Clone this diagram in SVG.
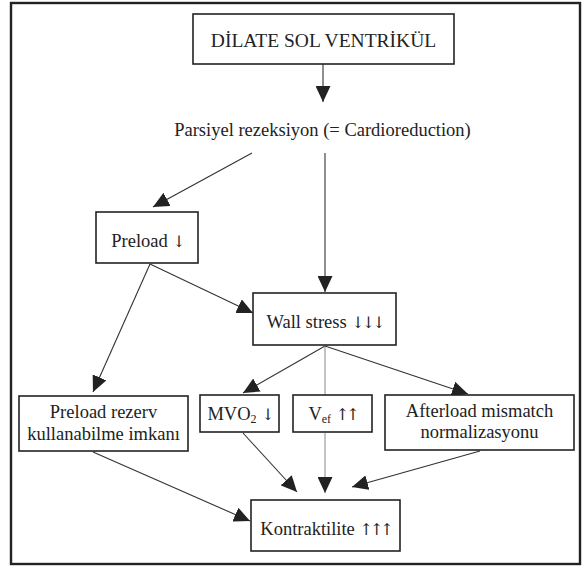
<svg xmlns="http://www.w3.org/2000/svg" width="586" height="571" viewBox="0 0 586 571">
<style>
.box{fill:#fff;stroke:#222;stroke-width:1.6}
.t{font-family:"Liberation Serif","DejaVu Serif",serif;font-size:18.5px;fill:#222;text-anchor:middle}
.ar{font-family:"DejaVu Serif",serif;font-size:16px;fill:#222;letter-spacing:-3px}
.c{fill:none;stroke:#333;stroke-width:1.1}
.cl{fill:none;stroke:#888;stroke-width:1}
</style>
<defs>
<marker id="ah" markerUnits="userSpaceOnUse" markerWidth="17" markerHeight="15" refX="16" refY="7.5" orient="auto">
<path d="M0,0 L16,7.5 L0,15 z" fill="#222"/>
</marker>
</defs>
<rect x="0" y="0" width="586" height="571" fill="#fff"/>
<rect x="11" y="3" width="569" height="561" fill="none" stroke="#222" stroke-width="2.4"/>

<g id="connectors">
<line class="c" x1="323" y1="64" x2="323" y2="102" marker-end="url(#ah)"/>
<line class="c" x1="252" y1="153" x2="153" y2="207" marker-end="url(#ah)"/>
<line class="c" x1="325" y1="153" x2="325" y2="292" marker-end="url(#ah)"/>
<line class="c" x1="150" y1="264" x2="253" y2="313" marker-end="url(#ah)"/>
<line class="c" x1="150" y1="264" x2="93" y2="392" marker-end="url(#ah)"/>
<line class="c" x1="325" y1="346" x2="243" y2="393" marker-end="url(#ah)"/>
<line class="cl" x1="325" y1="346" x2="325" y2="395"/>
<line class="c" x1="325" y1="346" x2="468" y2="394" marker-end="url(#ah)"/>
<line class="c" x1="93" y1="452" x2="250" y2="521" marker-end="url(#ah)"/>
<line class="c" x1="243" y1="433" x2="297" y2="492" marker-end="url(#ah)"/>
<line class="cl" x1="325" y1="433" x2="325" y2="493" marker-end="url(#ah)"/>
<line class="c" x1="480" y1="451" x2="352" y2="487" marker-end="url(#ah)"/>
</g>

<g id="n-dilate">
<rect class="box" x="193" y="14" width="261" height="50"/>
<text class="t" x="323.5" y="47" style="font-size:19.5px">DİLATE SOL VENTRİKÜL</text>
</g>

<g id="n-parsiyel">
<text class="t" x="322.5" y="136">Parsiyel rezeksiyon (= Cardioreduction)</text>
</g>

<g id="n-preload">
<rect class="box" x="96" y="212" width="102" height="51"/>
<text class="t" x="147" y="247">Preload <tspan class="ar">↓</tspan></text>
</g>

<g id="n-wallstress">
<rect class="box" x="253" y="293" width="143" height="52"/>
<text class="t" x="324.5" y="328">Wall stress <tspan class="ar">↓↓↓</tspan></text>
</g>

<g id="n-rezerv">
<rect class="box" x="19" y="396" width="169" height="55"/>
<text class="t" x="103.5" y="418">Preload rezerv</text>
<text class="t" x="103.5" y="440">kullanabilme imkanı</text>
</g>

<g id="n-mvo2">
<rect class="box" x="200" y="395" width="79" height="37"/>
<text class="t" x="239.5" y="420">MVO<tspan font-size="12" dy="3">2</tspan><tspan dy="-3"> </tspan><tspan class="ar">↓</tspan></text>
</g>

<g id="n-vef">
<rect class="box" x="293" y="395" width="79" height="37"/>
<text class="t" x="332.5" y="420">V<tspan font-size="12" dy="3">ef</tspan><tspan dy="-3"> </tspan><tspan class="ar">↑↑</tspan></text>
</g>

<g id="n-afterload">
<rect class="box" x="385" y="395" width="189" height="55"/>
<text class="t" x="479.5" y="417">Afterload mismatch</text>
<text class="t" x="479.5" y="438">normalizasyonu</text>
</g>

<g id="n-kontraktilite">
<rect class="box" x="251" y="500" width="149" height="51"/>
<text class="t" x="325.5" y="535">Kontraktilite <tspan class="ar">↑↑↑</tspan></text>
</g>
</svg>
